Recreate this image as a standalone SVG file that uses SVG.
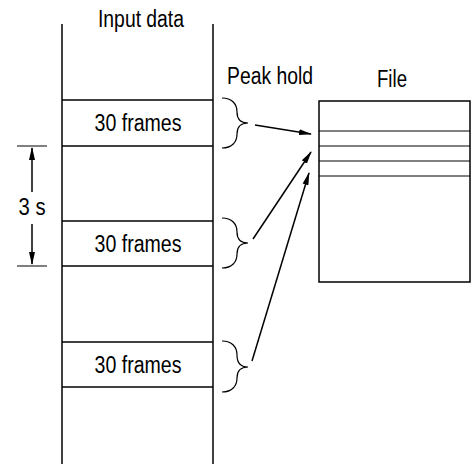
<svg xmlns="http://www.w3.org/2000/svg" width="472" height="465" viewBox="0 0 472 465">
<style>
.ln{stroke:#000;stroke-width:1.5;fill:none}
.thin{stroke:#000;stroke-width:1;fill:none}
.br{stroke:#000;stroke-width:1.2;fill:none}
.t{font-family:"Liberation Sans",Arial,sans-serif;font-size:23px;fill:#000}
</style>
<defs>
<marker id="ah" markerWidth="13" markerHeight="8" refX="12" refY="4" orient="auto" markerUnits="userSpaceOnUse">
<path d="M0,1 L13,4 L0,7 Z" fill="#000"/>
</marker>
</defs>
<rect width="472" height="465" fill="#fff"/>
<g id="input-data">
<line class="ln" x1="62" y1="24" x2="62" y2="464"/>
<line class="ln" x1="213" y1="24" x2="213" y2="464"/>
<text class="t" x="141" y="27" text-anchor="middle" textLength="86" lengthAdjust="spacingAndGlyphs">Input data</text>
</g>
<g id="frames1">
<line class="ln" x1="62" y1="100" x2="213" y2="100"/>
<line class="ln" x1="62" y1="146" x2="213" y2="146"/>
<text class="t" x="138" y="131" text-anchor="middle" textLength="87" lengthAdjust="spacingAndGlyphs">30 frames</text>
</g>
<g id="frames2">
<line class="ln" x1="62" y1="221" x2="213" y2="221"/>
<line class="ln" x1="62" y1="266" x2="213" y2="266"/>
<text class="t" x="138" y="252" text-anchor="middle" textLength="87" lengthAdjust="spacingAndGlyphs">30 frames</text>
</g>
<g id="frames3">
<line class="ln" x1="62" y1="342" x2="213" y2="342"/>
<line class="ln" x1="62" y1="387" x2="213" y2="387"/>
<text class="t" x="138" y="373" text-anchor="middle" textLength="87" lengthAdjust="spacingAndGlyphs">30 frames</text>
</g>
<g id="braces">
<path class="br" d="M222,98 C232,98 237,104 237,112 C237,119 240,123 248,123 C240,123 237,127 237,134 C237,142 232,148 222,148"/>
<path class="br" d="M222,218 C232,218 237,224 237,232 C237,239 240,243 248,243 C240,243 237,247 237,254 C237,262 232,268 222,268"/>
<path class="br" d="M222,341 C232,341 237,347 237,355 C237,362 240,367 248,367 C240,367 237,371 237,378 C237,386 232,392 222,392"/>
</g>
<g id="peak-hold-label">
<text class="t" x="270" y="84" text-anchor="middle" textLength="86" lengthAdjust="spacingAndGlyphs">Peak hold</text>
</g>
<g id="file">
<text class="t" x="392" y="87" text-anchor="middle" textLength="30" lengthAdjust="spacingAndGlyphs">File</text>
<rect class="ln" x="319" y="101" width="151" height="181"/>
<line class="thin" x1="319" y1="131" x2="470" y2="131"/>
<line class="thin" x1="319" y1="146" x2="470" y2="146"/>
<line class="thin" x1="319" y1="161" x2="470" y2="161"/>
<line class="thin" x1="319" y1="176" x2="470" y2="176"/>
</g>
<g id="dimension">
<line class="thin" x1="17" y1="146" x2="47" y2="146"/>
<line class="thin" x1="17" y1="266" x2="47" y2="266"/>
<line class="ln" x1="32" y1="192" x2="32" y2="148" marker-end="url(#ah)"/>
<line class="ln" x1="32" y1="224" x2="32" y2="264" marker-end="url(#ah)"/>
<text class="t" x="32" y="215" text-anchor="middle" textLength="27" lengthAdjust="spacingAndGlyphs">3 s</text>
</g>
<g id="connectors">
<line class="ln" x1="255" y1="125" x2="311" y2="134" marker-end="url(#ah)"/>
<line class="ln" x1="253" y1="239" x2="311" y2="152" marker-end="url(#ah)"/>
<line class="ln" x1="252" y1="361" x2="309" y2="173" marker-end="url(#ah)"/>
</g>
</svg>
